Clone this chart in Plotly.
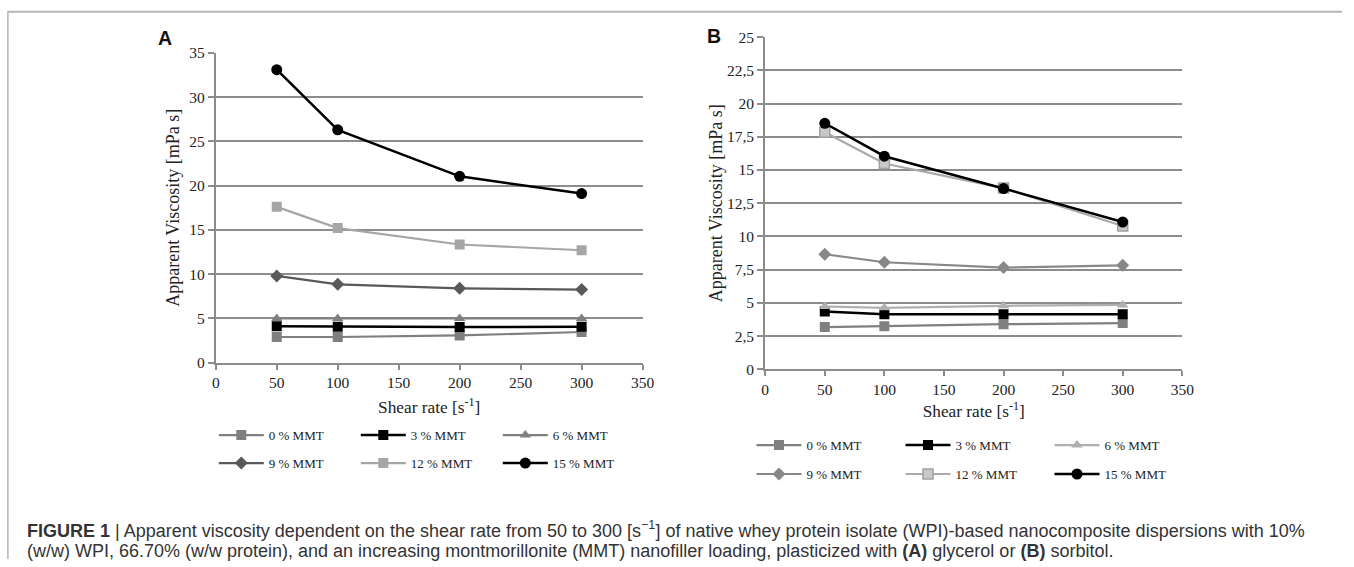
import plotly.graph_objects as go

W, H = 1354, 567

# The photographed page is slightly rescaled; these constants map a wanted
# picture position onto the page position that ends up there.
SX, BX = 0.9887, 4.1
SY, BY = 0.9725, 7.75


def px(x):
    return ((x - BX) / SX) / W


def py(y):
    return 1 - ((y - BY) / SY) / H


shear_rate = [50, 100, 200, 300]
series_names = ["0 % MMT", "3 % MMT", "6 % MMT", "9 % MMT", "12 % MMT", "15 % MMT"]

# Panel A (glycerol)
a_0 = [2.9, 2.9, 3.08, 3.46]
a_3 = [4.1, 4.05, 4.02, 4.05]
a_6 = [5.0, 5.0, 5.0, 5.0]
a_9 = [9.8, 8.85, 8.4, 8.25]
a_12 = [17.6, 15.2, 13.35, 12.7]
a_15 = [33.1, 26.3, 21.05, 19.1]

# Panel B (sorbitol)
b_0 = [3.18, 3.25, 3.4, 3.48]
b_3 = [4.35, 4.15, 4.15, 4.15]
b_6 = [4.73, 4.63, 4.78, 4.85]
b_9 = [8.66, 8.06, 7.66, 7.83]
b_12 = [17.84, 15.49, 13.64, 10.79]
b_15 = [18.52, 16.04, 13.61, 11.09]

x_ticks = [0, 50, 100, 150, 200, 250, 300, 350]
a_yticks = [0, 5, 10, 15, 20, 25, 30, 35]
b_yticks = [0, 2.5, 5, 7.5, 10, 12.5, 15, 17.5, 20, 22.5, 25]
b_yticktext = ["0", "2,5", "5", "7,5", "10", "12,5", "15", "17,5", "20", "22,5", "25"]

a_style = [
    dict(color="#7f7f7f", symbol="square", size=10, lw=2.2),
    dict(color="#000000", symbol="square", size=10, lw=2.5),
    dict(color="#7f7f7f", symbol="triangle-up", size=10, lw=2.2),
    dict(color="#595959", symbol="diamond", size=10, lw=2.2),
    dict(color="#a6a6a6", symbol="square", size=10, lw=2.2),
    dict(color="#000000", symbol="circle", size=11, lw=2.5),
]
b_style = [
    dict(color="#808080", symbol="square", size=10, lw=2.2),
    dict(color="#000000", symbol="square", size=10, lw=2.5),
    dict(color="#b0b0b0", symbol="triangle-up", size=10, lw=2.2),
    dict(color="#888888", symbol="diamond", size=10, lw=2.2),
    dict(color="#aaaaaa", symbol="square", size=10, lw=2.2),
    dict(color="#000000", symbol="circle", size=11, lw=2.5),
]

fig = go.Figure()

a_data = [a_0, a_3, a_6, a_9, a_12, a_15]
b_data = [b_0, b_3, b_6, b_9, b_12, b_15]

for i, (name, ys, st) in enumerate(zip(series_names, a_data, a_style)):
    fig.add_trace(go.Scatter(
        x=shear_rate, y=ys, name=name, mode="lines+markers",
        line=dict(color=st["color"], width=st["lw"]),
        marker=dict(color=st["color"], symbol=st["symbol"], size=st["size"]),
        xaxis="x", yaxis="y",
        legend="legend" if i < 3 else "legend2",
    ))

for i, (name, ys, st) in enumerate(zip(series_names, b_data, b_style)):
    mk = dict(color=st["color"], symbol=st["symbol"], size=st["size"])
    if i == 4:
        mk = dict(color="#c8c8c8", symbol="square", size=10,
                  line=dict(color="#a0a0a0", width=1.5))
    fig.add_trace(go.Scatter(
        x=shear_rate, y=ys, name=name, mode="lines+markers",
        line=dict(color=st["color"], width=st["lw"]),
        marker=mk,
        xaxis="x2", yaxis="y2",
        legend="legend3" if i < 3 else "legend4",
    ))

grid_col = "#8c8c8c"
tick_font = dict(family="Liberation Serif", size=15.5, color="#222222")
xtitle_font = dict(family="Liberation Serif", size=17.3, color="#222222")
ytitle_font = dict(family="Liberation Serif", size=18, color="#222222")


def xaxis(domain, anchor, standoff):
    return dict(domain=domain, anchor=anchor, range=[0, 350],
                tickvals=x_ticks, ticks="outside", ticklen=5, tickwidth=1.5,
                tickcolor=grid_col, showline=True, linecolor=grid_col, linewidth=2,
                showgrid=False, zeroline=False, tickfont=tick_font,
                title=dict(text="Shear rate [s<sup>-1</sup>]", font=xtitle_font,
                           standoff=standoff))


def yaxis(domain, anchor, rng, vals, text=None, standoff=8):
    d = dict(domain=domain, anchor=anchor, range=rng, tickvals=vals,
             ticks="outside", ticklen=6, tickwidth=1.5, tickcolor=grid_col,
             showline=True, linecolor=grid_col, linewidth=2,
             showgrid=True, gridcolor=grid_col, gridwidth=1.5, zeroline=False,
             tickfont=tick_font,
             title=dict(text="Apparent Viscosity [mPa s]", font=ytitle_font,
                        standoff=standoff))
    if text is not None:
        d["ticktext"] = text
    return d


ax_x = [px(216), px(643)]
ax_y = [py(362.3), py(51.7)]
bx_x = [px(765.7), px(1183)]
bx_y = [py(369), py(36)]

leg_font = dict(family="Liberation Serif", size=13, color="#222222")


def legend(xpx, ypx, ew):
    return dict(x=px(xpx), y=py(ypx), xanchor="left", yanchor="middle",
                orientation="h", entrywidth=ew, entrywidthmode="pixels",
                itemwidth=45, font=leg_font, bgcolor="rgba(0,0,0,0)",
                tracegroupgap=0, itemclick=False)


fig.update_layout(
    width=W, height=H,
    margin=dict(l=0, r=0, t=0, b=0),
    paper_bgcolor="white", plot_bgcolor="white",
    showlegend=True,
    xaxis=xaxis(ax_x, "y", 11),
    yaxis=yaxis(ax_y, "x", [0, 35], a_yticks, standoff=5),
    xaxis2=xaxis(bx_x, "y2", 8),
    yaxis2=yaxis(bx_y, "x2", [0, 25], b_yticks, b_yticktext, standoff=0),
    legend=legend(214, 435, 82),
    legend2=legend(214, 463, 82),
    legend3=legend(752, 445, 89),
    legend4=legend(752, 474, 89),
)

# panel letters
fig.add_annotation(x=px(165), y=py(37), xref="paper", yref="paper",
                   xanchor="center", yanchor="middle",
                   text="<b>A</b>", showarrow=False,
                   font=dict(family="Liberation Sans", size=19.5, color="#111111"))
fig.add_annotation(x=px(714), y=py(35), xref="paper", yref="paper",
                   xanchor="center", yanchor="middle",
                   text="<b>B</b>", showarrow=False,
                   font=dict(family="Liberation Sans", size=19.5, color="#111111"))

cap_font = dict(family="Liberation Sans", size=18, color="#333333")
cap1 = ("<b>FIGURE 1</b> | Apparent viscosity dependent on the shear rate from 50 to 300 "
        "[s<sup>−1</sup>] of native whey protein isolate (WPI)-based nanocomposite dispersions with 10%")
cap2 = ("(w/w) WPI, 66.70% (w/w protein), and an increasing montmorillonite (MMT) nanofiller loading, "
        "plasticized with <b>(A)</b> glycerol or <b>(B)</b> sorbitol.")
fig.add_annotation(x=px(25), y=py(530), xref="paper", yref="paper", xanchor="left",
                   yanchor="middle", text=cap1, showarrow=False, font=cap_font)
fig.add_annotation(x=px(25), y=py(551), xref="paper", yref="paper", xanchor="left",
                   yanchor="middle", text=cap2, showarrow=False, font=cap_font)

# outer frame
frame_col = "#b4b4b4"
fig.add_shape(type="line", xref="paper", yref="paper", x0=px(8), x1=1,
              y0=py(10.5), y1=py(10.5), line=dict(color=frame_col, width=2))
fig.add_shape(type="line", xref="paper", yref="paper", x0=px(8), x1=px(8),
              y0=py(10), y1=0, line=dict(color=frame_col, width=1.5))

fig.write_html(
    "out.html",
    config={"displayModeBar": False},
    post_script="document.body.style.margin='0';document.body.style.overflow='hidden';",
)
